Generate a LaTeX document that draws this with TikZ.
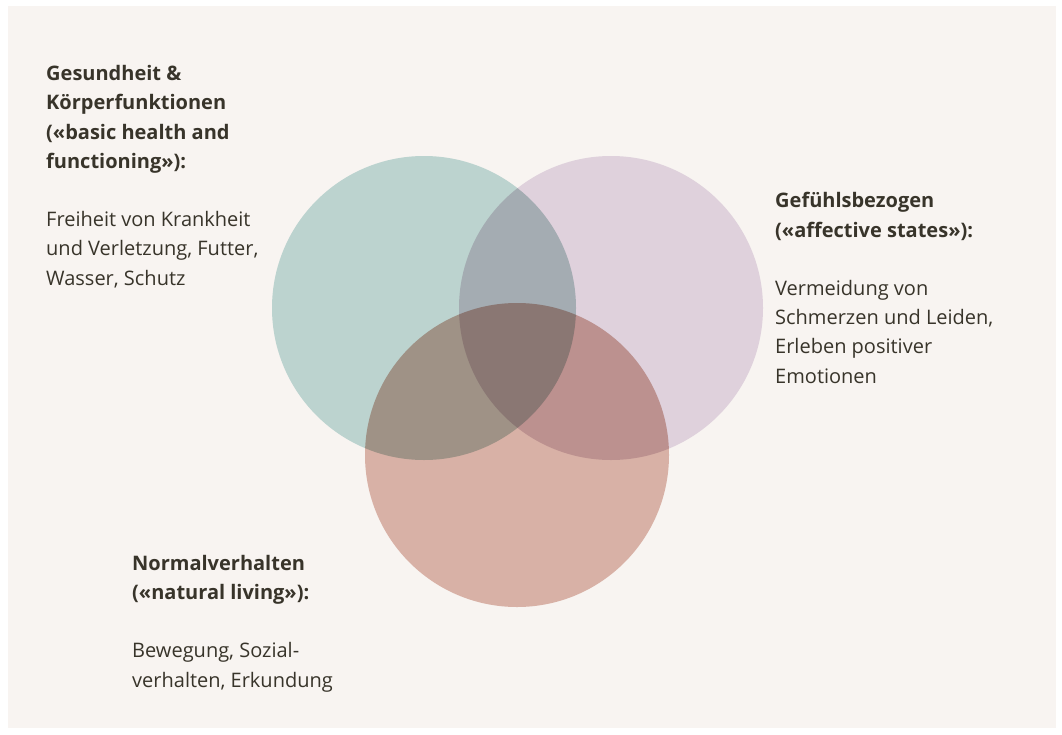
\documentclass[tikz,border=0pt]{standalone}
\usepackage{fontspec}
\setmainfont{Open Sans}
\usepackage{xcolor}
\usetikzlibrary{positioning}
\definecolor{paperbg}{RGB}{248,244,241}
\definecolor{inkdark}{RGB}{56,52,42}
\definecolor{healthteal}{RGB}{188,211,207}
\definecolor{affectlilac}{RGB}{223,209,220}
\definecolor{naturalsalmon}{RGB}{216,177,166}
\tikzset{
  % Textblöcke (Anker: Grundlinie der letzten Zeile)
  label/.style={anchor=base west, inner sep=0pt, align=left, text=inkdark,
    font=\fontsize{20}{29.2}\selectfont},
  % Kreise
  ring/.style={circle, minimum size=304pt, inner sep=0pt},
}

\begin{document}
\begin{tikzpicture}[x=1pt, y=-1pt]
        \useasboundingbox (0,0) rectangle (1062,734);
        % Hintergrund
        \fill[white] (0,0) rectangle (1062,734);
        \fill[paperbg] (8,6) rectangle (1056,728);

        % Kreise
        \begin{scope}[blend group=multiply]
        \node[ring, fill=healthteal] (health) at (424,308) {};
        \node[ring, fill=affectlilac] (affect) at (611,308) {};
        \node[ring, fill=naturalsalmon] (natural) at (517,455) {};
        \end{scope}

        % Beschriftungen
        \node[label] (healthtxt) at (46,285) {\textbf{Gesundheit \&}\\
          \textbf{Körperfunktionen}\\
          \textbf{(«basic health and}\\
          \textbf{functioning»):}\\[29.2pt]
          Freiheit von Krankheit\\
          und Verletzung, Futter,\\
          Wasser, Schutz};
        \node[label] (affecttxt) at (775,383) {\textbf{Gefühlsbezogen}\\
          \textbf{(«affective states»):}\\[29.2pt]
          Vermeidung von\\
          Schmerzen und Leiden,\\
          Erleben positiver\\
          Emotionen};
        \node[label] (naturaltxt) at (132,687) {\textbf{Normalverhalten}\\
          \textbf{(«natural living»):}\\[29.2pt]
          Bewegung, Sozial-\\
          verhalten, Erkundung};
    \end{tikzpicture}
\end{document}
